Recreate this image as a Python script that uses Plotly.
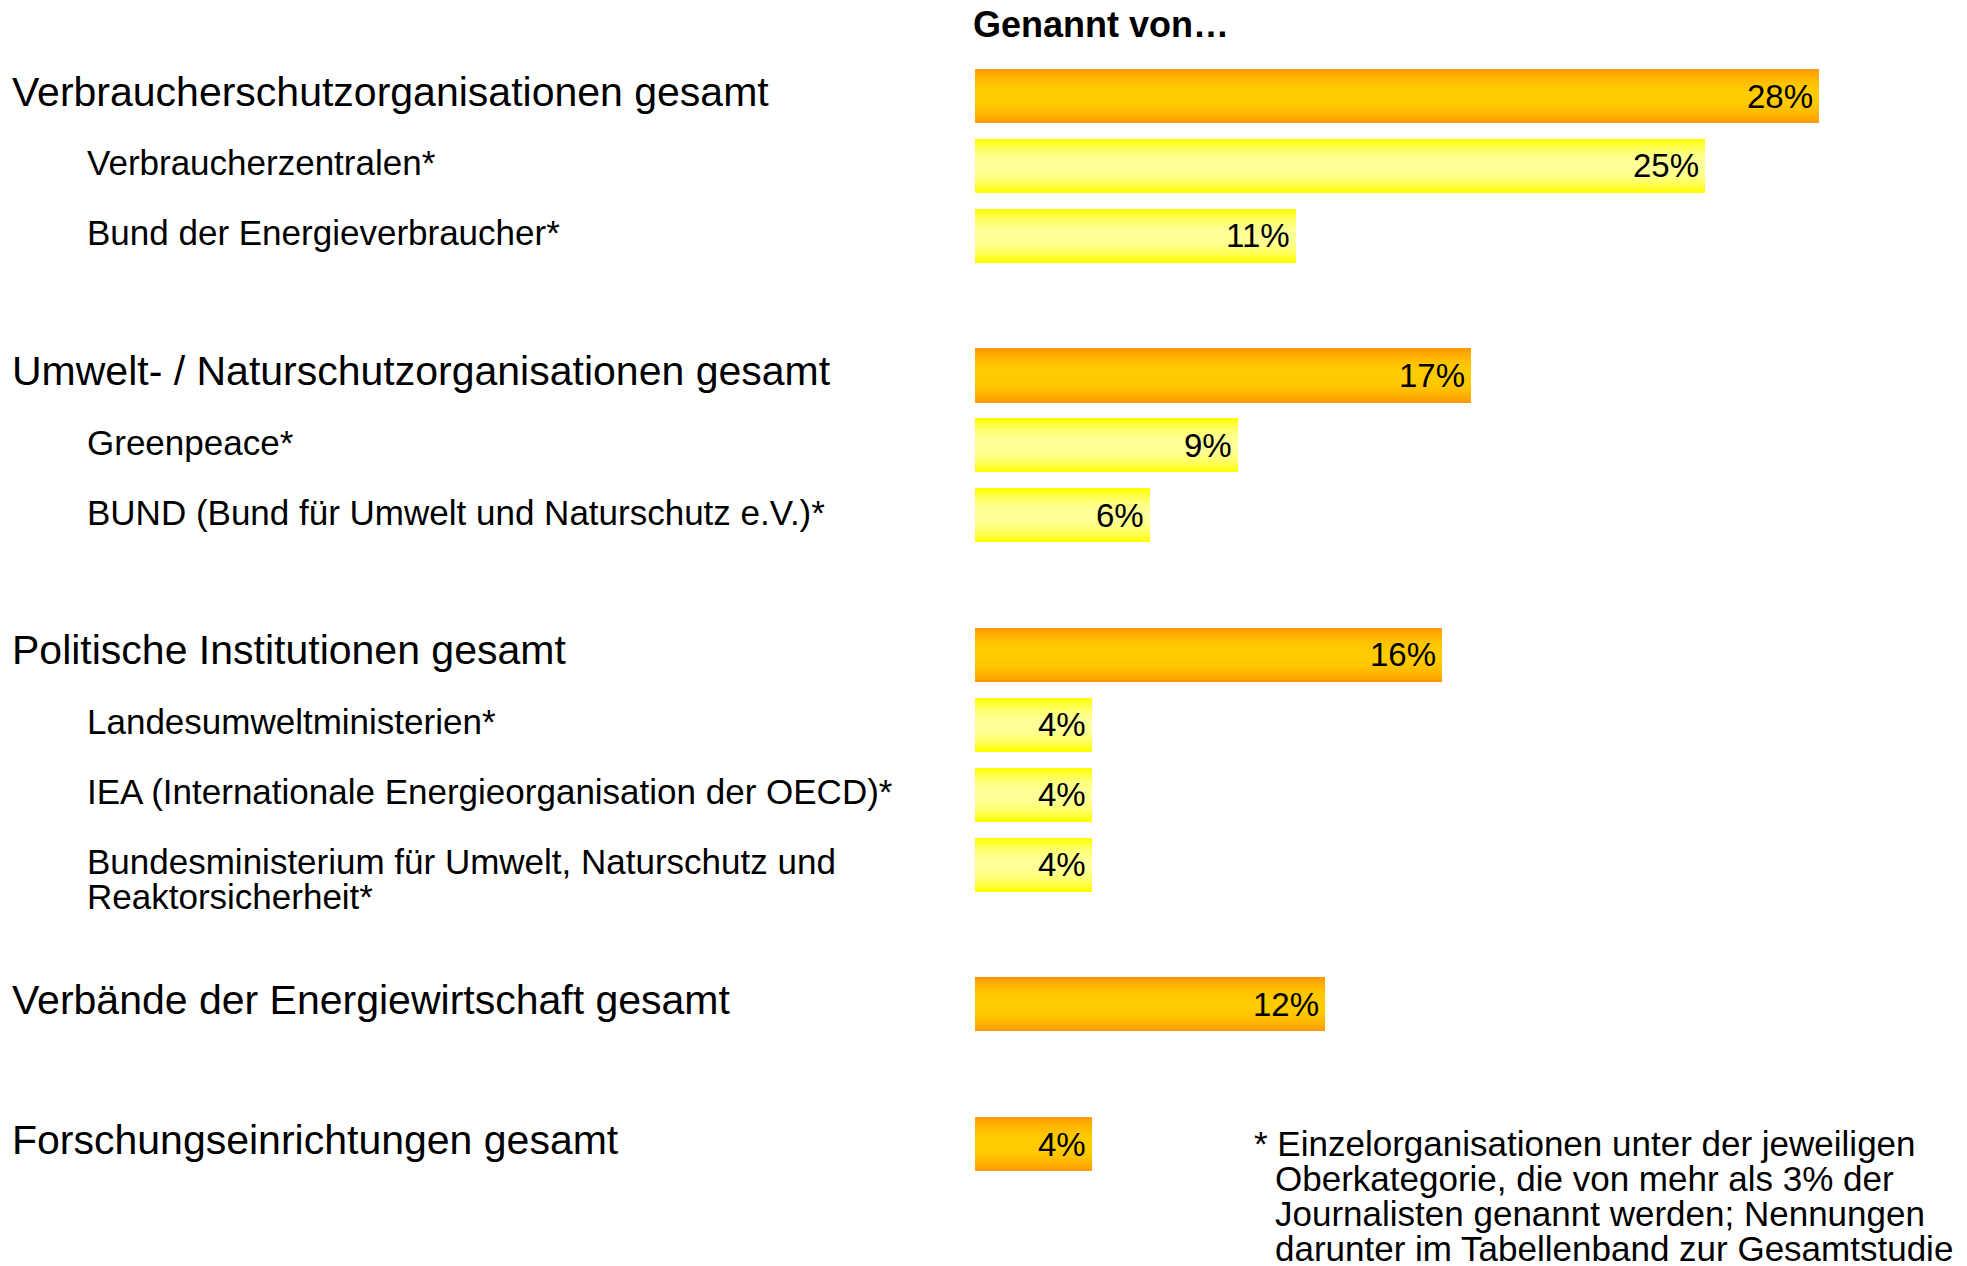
import plotly.graph_objects as go

# ---------------- data ----------------
group_titles = [
    "Verbraucherschutzorganisationen gesamt",
    "Umwelt- / Naturschutzorganisationen gesamt",
    "Politische Institutionen gesamt",
    "Verbände der Energiewirtschaft gesamt",
    "Forschungseinrichtungen gesamt",
]
group_values = [28.9, 17, 16, 12, 4]
group_texts = ["28%", "17%", "16%", "12%", "4%"]

sub_labels = [
    ["Verbraucherzentralen*", "Bund der Energieverbraucher*"],
    ["Greenpeace*", "BUND (Bund für Umwelt und Naturschutz e.V.)*"],
    ["Landesumweltministerien*",
     "IEA (Internationale Energieorganisation der OECD)*",
     "Bundesministerium für Umwelt, Naturschutz und<br>Reaktorsicherheit*"],
    [],
    [],
]
sub_values = [[25, 11], [9, 6], [4, 4, 4], [], []]
sub_texts = [["25%", "11%"], ["9%", "6%"], ["4%", "4%", "4%"], [], []]

header_text = "Genannt von…"
footnote_lines = [
    "* Einzelorganisationen unter der jeweiligen",
    "Oberkategorie, die von mehr als 3% der",
    "Journalisten genannt werden; Nennungen",
    "darunter im Tabellenband zur Gesamtstudie",
]

# ---------------- layout constants ----------------
# page body has an 8px margin, so the figure is drawn 8px smaller
OFF = 8
W, H = 1967 - OFF, 1266 - OFF
FONT = "Liberation Sans, Arial, sans-serif"
BAR_W = 0.774
BAR_LEFT = 975 - OFF
PX_PER_UNIT = 29.2
X_MAX = (W - BAR_LEFT) / PX_PER_UNIT
SLOT_PX = 69.87
FIRST_CENTER = 96 - OFF
Y_TOP = -FIRST_CENTER / SLOT_PX

# build rows (slot index, label, value, text, level)
rows = []
slot = 0
for gi, title in enumerate(group_titles):
    rows.append((slot, title, group_values[gi], group_texts[gi], 0))
    slot += 1
    for lab, v, t in zip(sub_labels[gi], sub_values[gi], sub_texts[gi]):
        rows.append((slot, lab, v, t, 1))
        slot += 1
    slot += 1  # gap
last_slot = rows[-1][0]
Y_BOTTOM = last_slot + (H - (FIRST_CENTER + last_slot * SLOT_PX)) / SLOT_PX

ys = [r[0] for r in rows]
xs = [r[2] for r in rows]
texts = [r[3] for r in rows]
levels = [r[4] for r in rows]

EDGE = {0: (255, 153, 0), 1: (255, 255, 0)}
CENTER = {0: (255, 204, 0), 1: (255, 255, 153)}


def mix(a, b, f):
    return "rgb(%d,%d,%d)" % tuple(round(a[i] + (b[i] - a[i]) * f) for i in range(3))


fig = go.Figure()
N = 16
for k in range(N):
    d = 1 - k / N  # distance from centre (1 = edge)
    g = d ** 2.2
    colors = [mix(CENTER[l], EDGE[l], g) for l in levels]
    fig.add_trace(go.Bar(
        x=xs, y=ys, orientation="h", base=0,
        width=[BAR_W * d] * len(xs),
        marker=dict(color=colors, line=dict(width=0)),
        showlegend=False, hoverinfo="skip",
    ))

annotations = []
# value labels inside bar ends
for y, x, t in zip(ys, xs, texts):
    annotations.append(dict(
        x=x, xref="x", y=y, yref="y", text=t, showarrow=False,
        xanchor="right", yanchor="middle", xshift=-4, yshift=0,
        font=dict(family=FONT, size=33, color="black"),
    ))

# row labels
for s, lab, v, t, lvl in rows:
    x_px = 1.5 if lvl == 0 else 76.5
    size = 41 if lvl == 0 else 35
    base_shift = 4.5 if lvl == 0 else 3
    for li, line in enumerate(lab.split("<br>")):
        annotations.append(dict(
            x=x_px / W, xref="paper", y=s, yref="y",
            text=line, showarrow=False, xanchor="left", yanchor="middle",
            yshift=base_shift - 35 * li,
            font=dict(family=FONT, size=size, color="black"),
        ))

annotations.append(dict(
    x=(BAR_LEFT - 4) / W, xref="paper", y=1 - 17 / H, yref="paper",
    text="<b>" + header_text + "</b>", showarrow=False,
    xanchor="left", yanchor="middle",
    font=dict(family=FONT, size=36, color="black"),
))

foot_y = [1135, 1170, 1205, 1240]
for i, line in enumerate(footnote_lines):
    annotations.append(dict(
        x=(1244 if i == 0 else 1265) / W, xref="paper",
        y=1 - foot_y[i] / H, yref="paper",
        text=line, showarrow=False, xanchor="left", yanchor="middle",
        font=dict(family=FONT, size=35, color="black"),
    ))

fig.update_layout(
    width=W, height=H,
    margin=dict(l=0, r=0, t=0, b=0),
    barmode="overlay",
    bargap=0,
    plot_bgcolor="white", paper_bgcolor="white",
    xaxis=dict(domain=[BAR_LEFT / W, 1], range=[0, X_MAX], visible=False,
               fixedrange=True),
    yaxis=dict(range=[Y_BOTTOM, Y_TOP], visible=False, fixedrange=True),
    annotations=annotations,
)

fig.write_html("out.html")
